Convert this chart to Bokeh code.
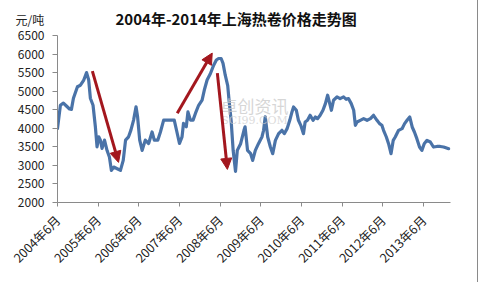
import pandas as pd
from bokeh.plotting import figure
from bokeh.models import (ColumnDataSource, FixedTicker, Range1d, Title, Label,
                          Arrow, NormalHead)
from bokeh.embed import file_html
from bokeh.resources import INLINE
from math import pi

# ---------------- data ----------------
dates = [
    "2004-06-01", "2004-06-27", "2004-07-24", "2004-08-20", "2004-09-17", "2004-10-04",
    "2004-10-22", "2004-11-27", "2004-12-24", "2005-01-23", "2005-02-17", "2005-03-08",
    "2005-03-23", "2005-04-16", "2005-05-07", "2005-05-22", "2005-06-06", "2005-06-21",
    "2005-07-06", "2005-07-28", "2005-08-20", "2005-09-10", "2005-09-28", "2005-10-19",
    "2005-11-19", "2005-12-18", "2006-01-12", "2006-02-02", "2006-03-01", "2006-03-22",
    "2006-04-15", "2006-05-07", "2006-05-21", "2006-06-09", "2006-07-01", "2006-07-29",
    "2006-08-28", "2006-09-28", "2006-10-18", "2006-11-18", "2006-12-12", "2007-01-10",
    "2007-02-09", "2007-03-10", "2007-04-15", "2007-05-09", "2007-06-01", "2007-06-24",
    "2007-07-07", "2007-08-01", "2007-08-16", "2007-09-07", "2007-10-01", "2007-10-22",
    "2007-11-20", "2007-12-21", "2008-01-10", "2008-02-04", "2008-03-04", "2008-04-03",
    "2008-04-27", "2008-05-17", "2008-06-09", "2008-06-26", "2008-07-16", "2008-08-07",
    "2008-08-19", "2008-09-07", "2008-09-25", "2008-10-16", "2008-11-01", "2008-12-01",
    "2008-12-31", "2009-01-10", "2009-02-01", "2009-03-01", "2009-03-19", "2009-04-12",
    "2009-05-10", "2009-06-10", "2009-06-25", "2009-07-10", "2009-08-01", "2009-08-25",
    "2009-09-15", "2009-10-09", "2009-11-07", "2009-12-07", "2009-12-28", "2010-01-22",
    "2010-02-15", "2010-03-07", "2010-03-21", "2010-04-15", "2010-05-04", "2010-05-25",
    "2010-06-18", "2010-07-03", "2010-07-24", "2010-08-17", "2010-09-12", "2010-10-03",
    "2010-10-22", "2010-11-15", "2010-12-10", "2011-01-01", "2011-01-21", "2011-02-09",
    "2011-02-24", "2011-03-15", "2011-04-15", "2011-05-13", "2011-06-13", "2011-07-07",
    "2011-07-27", "2011-08-21", "2011-09-12", "2011-09-27", "2011-10-12", "2011-11-10",
    "2011-12-10", "2012-01-10", "2012-02-09", "2012-03-08", "2012-04-08", "2012-05-01",
    "2012-05-22", "2012-06-06", "2012-07-01", "2012-07-21", "2012-08-12", "2012-09-01",
    "2012-09-19", "2012-10-19", "2012-11-19", "2012-12-12", "2013-01-03", "2013-01-27",
    "2013-02-18", "2013-03-10", "2013-04-01", "2013-04-25", "2013-05-16", "2013-06-06",
    "2013-07-01", "2013-07-31", "2013-08-28", "2013-09-28", "2013-10-28", "2013-11-27",
    "2014-01-12",
]
prices = [
    3990, 4620, 4680, 4600, 4520, 4510,
    4810, 5120, 5160, 5300, 5500, 5300,
    4810, 4620, 4040, 3500, 3770, 3680,
    3460, 3680, 3400, 3225, 2865, 2955,
    2910, 2865, 3135, 3680, 3770, 3950,
    4220, 4580, 4310, 3680, 3405, 3680,
    3590, 3900, 3680, 3680, 3900, 4220,
    4220, 4220, 4220, 3900, 3590, 3770,
    4130, 4040, 4440, 4220, 4220, 4400,
    4620, 4760, 5030, 5300, 5470, 5700,
    5840, 5880, 5880, 5750, 5430, 5150,
    4760, 4200, 3400, 2840, 3405, 3585,
    3945, 4040, 3405, 3315, 3135, 3405,
    3585, 3765, 3945, 4310, 3765, 3495,
    3315, 3675, 3855, 3945, 3855, 3990,
    4215, 4440, 4575, 4485, 4215, 4080,
    3855, 4170, 4215, 4350, 4215, 4305,
    4260, 4350, 4485, 4665, 4890, 4665,
    4485, 4755, 4845, 4800, 4845, 4780,
    4800, 4665, 4485, 4080, 4170, 4215,
    4260, 4215, 4260, 4350, 4215, 4125,
    4080, 3945, 3765, 3585, 3315, 3675,
    3765, 3945, 3990, 4125, 4215, 4305,
    4035, 3900, 3720, 3495, 3405, 3585,
    3675, 3630, 3495, 3510, 3510, 3495,
    3450,
]
tick_dates = ["2004-06-01", "2005-06-01", "2006-06-01", "2007-06-01", "2008-06-01",
              "2009-06-01", "2010-06-01", "2011-06-01", "2012-06-01", "2013-06-01"]
tick_labels = ["2004年6月", "2005年6月", "2006年6月", "2007年6月", "2008年6月",
               "2009年6月", "2010年6月", "2011年6月", "2012年6月", "2013年6月"]
y_ticks = [2000, 2500, 3000, 3500, 4000, 4500, 5000, 5500, 6000, 6500]

# arrows: (start date, start value, end date, end value)
arrow_start_dates = ["2005-04-10", "2007-05-12", "2008-05-06"]
arrow_start_vals = [5540, 4405, 5487]
arrow_end_dates = ["2005-12-01", "2008-03-21", "2008-08-04"]
arrow_end_vals = [3081, 6027, 2892]

title_text = "2004年-2014年上海热卷价格走势图"
unit_text = "元/吨"

# ---------------- plot ----------------
def ms(d):
    return pd.Timestamp(d).value / 1e6

FONT = "Noto Sans CJK SC"
LINE_COLOR = "#4A73A8"
ARROW_COLOR = "#A3171E"

p = figure(width=478, height=282, output_backend="svg", toolbar_location=None,
           x_axis_type="datetime",
           x_range=Range1d(ms("2004-06-01"), ms("2014-01-28")),
           y_range=Range1d(2000, 6500),
           min_border_left=57, min_border_right=28, min_border_top=35, min_border_bottom=80)
p.styles = {"border-right": "1px solid #8a8a8a"}
p.outline_line_color = None
p.grid.visible = False
p.background_fill_color = "white"
p.border_fill_color = "white"

# watermark
wm1 = Label(x=ms("2008-06-04"), y=4270, text="卓创资讯", text_font=FONT,
            text_font_size="17px", text_color="#c9c9c9", text_alpha=0.75)
wm2 = Label(x=ms("2008-06-10"), y=4040, text="SCI99.COM", text_font="DejaVu Serif",
            text_font_size="11px", text_color="#cfcfcf", text_alpha=0.75)
p.add_layout(wm1)
p.add_layout(wm2)

src = ColumnDataSource(dict(x=[pd.Timestamp(d) for d in dates], y=prices))
p.line("x", "y", source=src, line_color=LINE_COLOR, line_width=3.2,
       line_join="round", line_cap="round")

for sd, sv, ed, ev in zip(arrow_start_dates, arrow_start_vals, arrow_end_dates, arrow_end_vals):
    p.add_layout(Arrow(x_start=ms(sd), y_start=sv, x_end=ms(ed), y_end=ev,
                       line_color=ARROW_COLOR, line_width=3,
                       end=NormalHead(size=11, fill_color=ARROW_COLOR,
                                      line_color=ARROW_COLOR, line_width=1)))

# x axis
xa = p.xaxis[0]
xa.ticker = FixedTicker(ticks=[ms(d) for d in tick_dates])
xa.major_label_overrides = {ms(d): lab for d, lab in zip(tick_dates, tick_labels)}
xa.major_label_orientation = pi / 4
xa.major_label_text_font = FONT
xa.major_label_text_font_size = "12.5px"
xa.major_label_text_color = "#222222"
xa.axis_line_color = "#8a8a8a"
xa.major_tick_line_color = "#8a8a8a"
xa.major_tick_in = 0
xa.major_tick_out = 4
xa.minor_tick_line_color = None
xa.major_label_standoff = 11

# y axis
ya = p.yaxis[0]
ya.ticker = FixedTicker(ticks=y_ticks)
ya.major_label_text_font = FONT
ya.major_label_text_font_size = "12px"
ya.major_label_text_color = "#222222"
ya.axis_line_color = "#8a8a8a"
ya.major_tick_line_color = "#8a8a8a"
ya.major_tick_in = 0
ya.major_tick_out = 5
ya.minor_tick_line_color = None
ya.major_label_standoff = 8

# title (nearest the frame) and unit (stacked above it, pulled down onto the same row)
t = Title(text=title_text, align="left", offset=58, text_font=FONT,
          text_font_size="15px", text_font_style="bold", text_color="#111111",
          vertical_align="top", standoff=10)
p.add_layout(t, "above")

unit = Title(text=unit_text, align="left", offset=-42, text_font=FONT,
             text_font_size="12px", text_font_style="normal", text_color="#222222",
             vertical_align="bottom", standoff=-50)
p.add_layout(unit, "above")

open("out.html", "w").write(file_html(p, INLINE))
